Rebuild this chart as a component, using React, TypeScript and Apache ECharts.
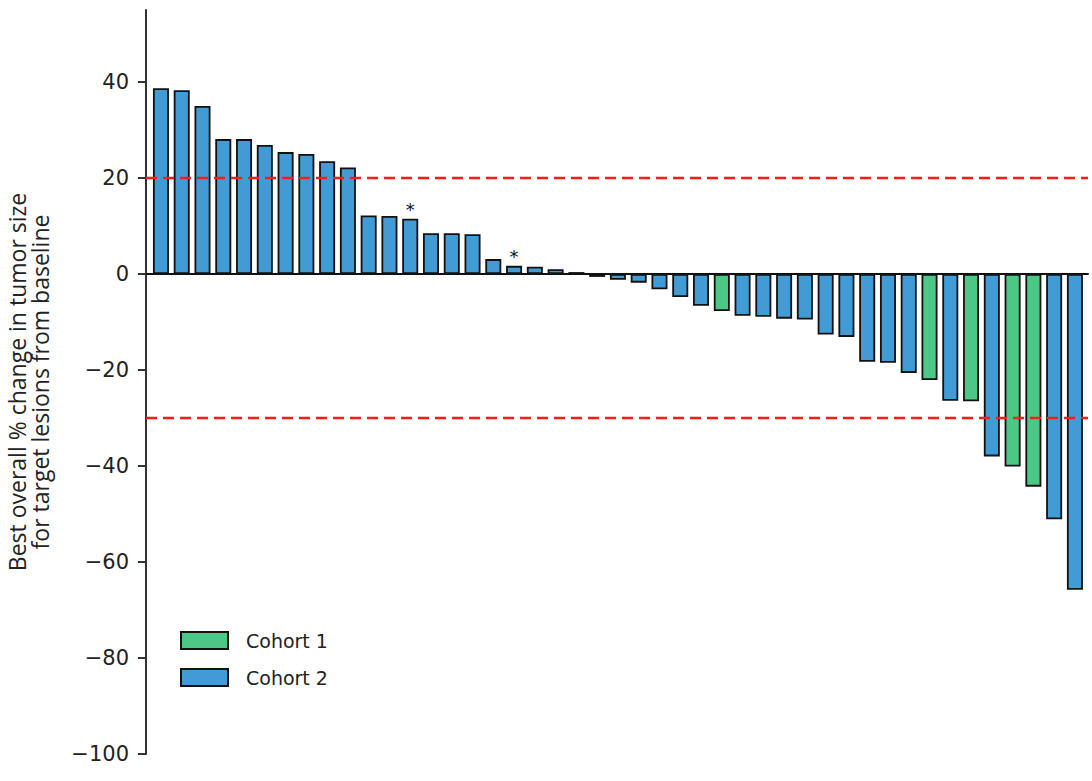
import React, { useEffect, useRef } from "react";
import * as echarts from "echarts";

const values: number[] = [
  38.7, 38.3, 35.0, 28.1, 28.1, 26.9, 25.4, 25.0, 23.5, 22.2,
  12.2, 12.1, 11.5, 8.5, 8.5, 8.3, 3.1, 1.7, 1.5, 1.0,
  0.4, -0.6, -1.2, -1.8, -3.2, -4.8, -6.6, -7.7, -8.7, -8.9,
  -9.3, -9.5, -12.6, -13.1, -18.3, -18.5, -20.6, -22.1, -26.4, -26.5,
  -38.0, -40.1, -44.3, -51.1, -65.8,
];
const cohorts: number[] = [
  2, 2, 2, 2, 2, 2, 2, 2, 2, 2,
  2, 2, 2, 2, 2, 2, 2, 2, 2, 2,
  2, 2, 2, 2, 2, 2, 2, 1, 2, 2,
  2, 2, 2, 2, 2, 2, 2, 1, 2, 1,
  2, 1, 1, 2, 2,
];
const starred: number[] = [12, 17];
const seriesNames: string[] = ["Cohort 1", "Cohort 2"];
const thresholds: number[] = [20, -30];
const yTicks: number[] = [-100, -80, -60, -40, -20, 0, 20, 40];

const COLORS: Record<number, string> = { 1: "#4CC785", 2: "#419BD5" };

export default function App() {
  const ref = useRef<HTMLDivElement>(null);
  useEffect(() => {
    if (!ref.current) return;
    const chart = echarts.init(ref.current, undefined, { renderer: "svg" });
    const mkData = (c: number) =>
      values
        .map((v, i) => ({ v, i }))
        .filter((d) => cohorts[d.i] === c)
        .map((d) => {
          const item: any = { value: [d.i, d.v] };
          if (starred.includes(d.i)) {
            item.label = {
              show: true,
              position: "top",
              formatter: "*",
              distance: 0,
              fontSize: 18,
              color: "#111",
              fontFamily: "DejaVu Sans",
            };
          }
          return item;
        });
    const series: any[] = [1, 2].map((c, k) => ({
      type: "bar",
      name: seriesNames[k],
      data: mkData(c),
      barWidth: 16,
      barGap: "-100%",
      itemStyle: { color: COLORS[c], borderColor: "#111", borderWidth: 1.8 },
      ...(k === 1
        ? {
            markLine: {
              silent: true,
              symbol: "none",
              label: { show: false },
              lineStyle: { color: "#FF1A1A", type: [11, 6], width: 2.4 },
              data: thresholds.map((t) => ({ yAxis: t })),
            },
          }
        : {}),
    }));
    chart.setOption({
      animation: false,
      grid: { left: 146, right: 4, top: 10, bottom: 27, containLabel: false, outerBoundsMode: "none" },
      legend: {
        left: 180,
        top: 631,
        padding: 0,
        orient: "vertical",
        itemWidth: 47,
        itemHeight: 17,
        itemGap: 18,
        icon: "rect",
        textStyle: { fontSize: 19, color: "#222", fontFamily: "DejaVu Sans", padding: [0, 0, 0, 13] },
        data: seriesNames,
      },
      xAxis: {
        type: "value",
        min: -0.72,
        max: 44.63,
        axisLine: { show: true, onZero: true, lineStyle: { color: "#111", width: 2 } },
        axisTick: { show: false },
        axisLabel: { show: false },
        splitLine: { show: false },
      },
      yAxis: {
        type: "value",
        min: -100,
        max: 55,
        name: "Best overall % change in tumor size\nfor target lesions from baseline",
        nameLocation: "middle",
        nameGap: 95,
        nameTextStyle: { fontSize: 23, color: "#222", fontFamily: "Open Sans", lineHeight: 23 },
        axisLine: { show: true, onZero: false, lineStyle: { color: "#333", width: 2 } },
        axisTick: { show: true, length: 8, lineStyle: { color: "#333", width: 2 }, customValues: yTicks },
        axisLabel: {
          customValues: yTicks,
          fontSize: 21,
          color: "#222",
          fontFamily: "DejaVu Sans",
          margin: 17,
          formatter: (v: number) => String(v).replace("-", "\u2212"),
        },
        splitLine: { show: false },
      },
      series,
    });
    return () => chart.dispose();
  }, []);
  return (
    <div
      ref={ref}
      style={{ position: "fixed", left: 0, top: 0, width: 1092, height: 781, background: "#fff" }}
    />
  );
}
